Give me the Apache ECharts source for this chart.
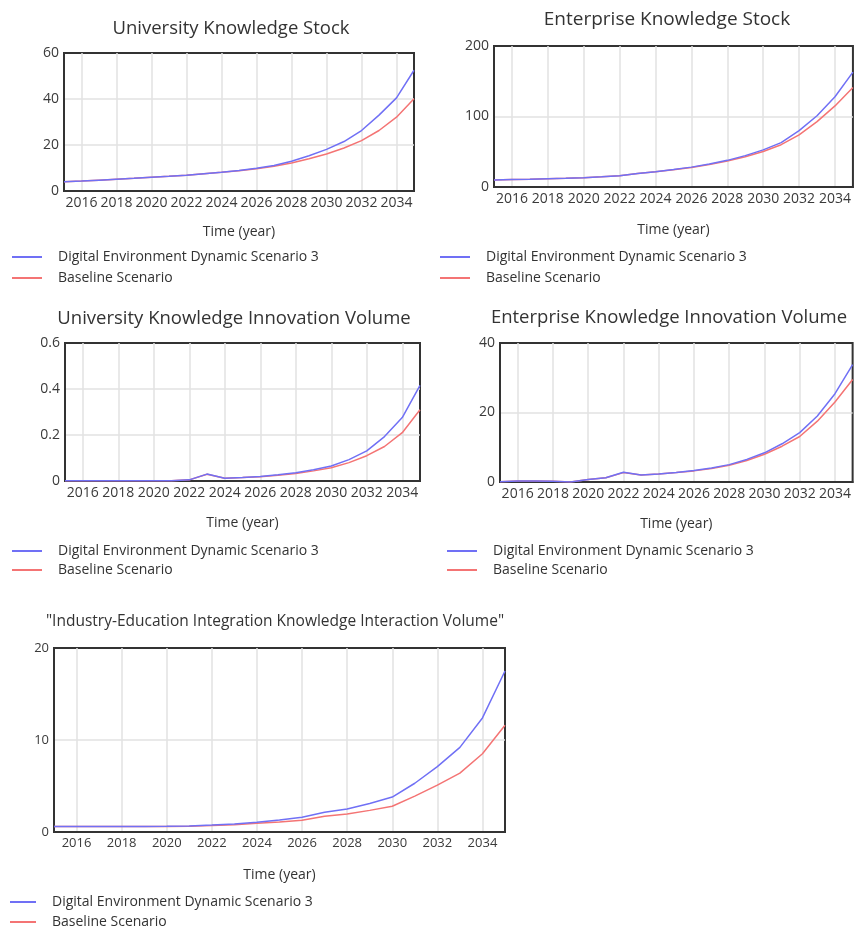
<!DOCTYPE html>
<html>
<head>
<meta charset="utf-8">
<script src="https://cdn.jsdelivr.net/npm/echarts@6/dist/echarts.min.js"></script>
<style>
  html, body { margin: 0; padding: 0; background: #fff; }
  #main { width: 854px; height: 932px; }
</style>
</head>
<body>
<div id="main"></div>
<script>
// years 2015 .. 2035
var years = ['2015','2016','2017','2018','2019','2020','2021','2022','2023','2024','2025',
             '2026','2027','2028','2029','2030','2031','2032','2033','2034','2035'];

var seriesNames = ['Digital Environment Dynamic Scenario 3', 'Baseline Scenario'];

// University Knowledge Stock
var uniStockDigital  = [4, 4.3, 4.7, 5.1, 5.5, 6.0, 6.4, 6.9, 7.5, 8.1, 8.9, 9.9, 11.1, 12.9, 15.3, 18.1, 21.5, 26.3, 33, 40.5, 52.5];
var uniStockBaseline = [4, 4.3, 4.7, 5.1, 5.5, 6.0, 6.4, 6.9, 7.5, 8.1, 8.8, 9.7, 10.8, 12.2, 14.0, 16.1, 18.7, 21.9, 26.3, 32.1, 40.1];

// Enterprise Knowledge Stock
var entStockDigital  = [10, 10.5, 11, 11.8, 12.3, 13.2, 14.5, 16, 19, 21.6, 24.7, 28.2, 32.5, 37.8, 44.5, 52.7, 63, 80, 101, 128, 163];
var entStockBaseline = [10, 10.5, 11, 11.8, 12.3, 13.2, 14.5, 16, 19, 21.5, 24.5, 27.8, 31.8, 36.8, 42.8, 50.4, 60, 74, 92.7, 115, 141];

// University Knowledge Innovation Volume
var uniInnovDigital  = [0.001, 0.001, 0.001, 0.001, 0.001, 0.001, 0.001, 0.005, 0.03, 0.012, 0.015, 0.02, 0.027, 0.036, 0.049, 0.065, 0.093, 0.131, 0.193, 0.276, 0.416];
var uniInnovBaseline = [0.001, 0.001, 0.001, 0.001, 0.001, 0.001, 0.001, 0.005, 0.029, 0.012, 0.015, 0.019, 0.025, 0.033, 0.044, 0.058, 0.080, 0.110, 0.150, 0.210, 0.310];

// Enterprise Knowledge Innovation Volume
var entInnovDigital  = [0.1, 0.3, 0.3, 0.2, 0, 0.7, 1.2, 2.8, 2.0, 2.3, 2.7, 3.3, 4.0, 5.0, 6.5, 8.4, 11, 14.2, 19, 25.4, 33.8];
var entInnovBaseline = [0.1, 0.3, 0.3, 0.2, 0, 0.7, 1.2, 2.7, 2.0, 2.3, 2.7, 3.2, 3.9, 4.8, 6.2, 8.0, 10.3, 13.1, 17.5, 23.0, 29.5];

// Industry-Education Integration Knowledge Interaction Volume
var interDigital  = [0.6, 0.6, 0.6, 0.6, 0.6, 0.62, 0.66, 0.75, 0.88, 1.06, 1.3, 1.6, 2.15, 2.5, 3.1, 3.8, 5.3, 7.1, 9.2, 12.4, 17.5];
var interBaseline = [0.6, 0.6, 0.6, 0.6, 0.6, 0.6, 0.63, 0.7, 0.8, 0.95, 1.1, 1.27, 1.7, 1.95, 2.35, 2.8, 3.9, 5.1, 6.4, 8.5, 11.6];

var BLUE = '#7070f5';
var RED = '#f47474';
var FONT = '"Open Sans", "Noto Sans", sans-serif';

var panels = [
  { title: 'University Knowledge Stock', tx: 226, ty: 14, fs: 18.5,
    grid: { left: 64, top: 53, width: 350, height: 138 },
    ymax: 60, yint: 20, lab: 14, nameGap: 34,
    legend: { left: 12, top: 250, w: 30, gap: 7 }, data: [uniStockDigital, uniStockBaseline] },
  { title: 'Enterprise Knowledge Stock', tx: 662, ty: 5, fs: 19,
    grid: { left: 494, top: 46, width: 362, height: 141 },
    ymax: 200, yint: 100, lab: 14, nameGap: 36,
    legend: { left: 440, top: 250, w: 30, gap: 7 }, data: [entStockDigital, entStockBaseline] },
  { title: 'University Knowledge Innovation Volume', tx: 229, ty: 304, fs: 18.5,
    grid: { left: 65, top: 343, width: 355, height: 138 },
    ymax: 0.6, yint: 0.2, lab: 14, nameGap: 35,
    legend: { left: 12, top: 544, w: 30, gap: 5 }, data: [uniInnovDigital, uniInnovBaseline] },
  { title: 'Enterprise Knowledge Innovation Volume', tx: 664, ty: 303, fs: 18.5,
    grid: { left: 500, top: 343, width: 356, height: 139 },
    ymax: 40, yint: 20, lab: 14, nameGap: 35,
    legend: { left: 447, top: 544, w: 30, gap: 5 }, data: [entInnovDigital, entInnovBaseline] },
  { title: '"Industry-Education Integration Knowledge Interaction Volume"', tx: 270, ty: 609, fs: 15.5,
    grid: { left: 54, top: 648, width: 451, height: 184 },
    ymax: 20, yint: 10, lab: 13, nameGap: 36,
    legend: { left: 10, top: 895, w: 26, gap: 6 }, data: [interDigital, interBaseline] }
];

var chart = echarts.init(document.getElementById('main'));

var evenYear = function (idx, val) { return Number(val) % 2 === 0; };
var frame = { show: true, lineStyle: { color: '#333', width: 2 } };

var option = {
  backgroundColor: '#fff',
  animation: false,
  textStyle: { fontFamily: FONT },
  title: [], grid: [], xAxis: [], yAxis: [], legend: [], series: []
};

panels.forEach(function (p, i) {
  option.title.push({
    text: p.title, left: p.tx, top: p.ty, textAlign: 'center',
    textStyle: { fontFamily: FONT, fontSize: p.fs, fontWeight: 'normal', color: '#333' }
  });
  option.grid.push({
    left: p.grid.left, top: p.grid.top, width: p.grid.width, height: p.grid.height,
    show: true, borderColor: '#333', borderWidth: 2, backgroundColor: '#fff'
  });
  option.xAxis.push({
    type: 'category', gridIndex: i, data: years, boundaryGap: false,
    name: 'Time (year)', nameLocation: 'middle', nameGap: p.nameGap,
    nameTextStyle: { fontFamily: FONT, fontSize: 14, color: '#333' },
    axisLine: frame, axisTick: { show: false },
    axisLabel: { interval: evenYear, margin: 5, fontSize: p.lab, color: '#3a3a3a', fontFamily: FONT },
    splitLine: { show: true, interval: evenYear, lineStyle: { color: '#e2e2e2', width: 1.5 } }
  });
  option.yAxis.push({
    type: 'value', gridIndex: i, min: 0, max: p.ymax, interval: p.yint,
    axisLine: frame, axisTick: { show: false },
    axisLabel: { margin: 5, fontSize: p.lab, color: '#3a3a3a', fontFamily: FONT },
    splitLine: { showMinLine: false, showMaxLine: false, lineStyle: { color: '#e2e2e2', width: 1.5 } }
  });
  option.legend.push({
    orient: 'vertical', left: p.legend.left, top: p.legend.top, padding: 0,
    icon: 'rect', itemWidth: p.legend.w, itemHeight: 2, itemGap: p.legend.gap,
    data: seriesNames,
    textStyle: { fontFamily: FONT, fontSize: 14, color: '#333', padding: [0, 0, 0, 11] }
  });
  [BLUE, RED].forEach(function (c, k) {
    option.series.push({
      name: seriesNames[k], type: 'line', xAxisIndex: i, yAxisIndex: i,
      data: p.data[k], symbol: 'none', smooth: false,
      lineStyle: { color: c, width: 1.5 }, itemStyle: { color: c },
      z: k === 0 ? 3 : 2
    });
  });
});

chart.setOption(option);

window.addEventListener('resize', function () {
  chart.resize();
});
</script>
</body>
</html>
